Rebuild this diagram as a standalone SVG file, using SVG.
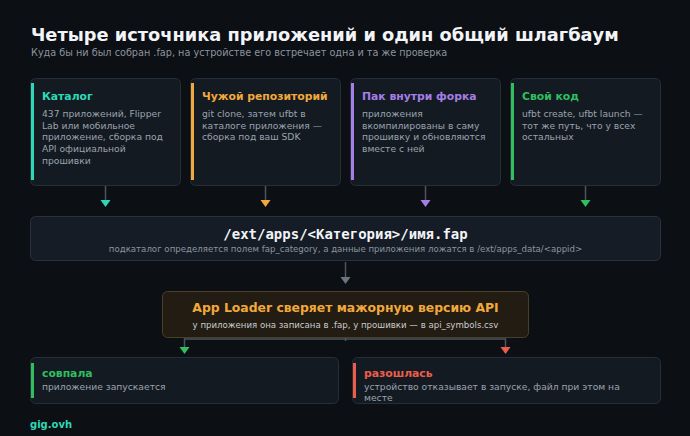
<svg xmlns="http://www.w3.org/2000/svg" width="690" height="436" viewBox="0 0 690 436">
<style>
.card{fill:#141a22;stroke:#262e38;stroke-width:1}
.ct{font-family:"DejaVu Sans",sans-serif;font-weight:bold;font-size:10.8px}
.cb{font-family:"DejaVu Sans",sans-serif;font-size:9.2px;fill:#9aa3ad}
.ln{fill:none;stroke:#4b5462;stroke-width:1.5}
</style>
<rect width="690" height="436" fill="#0c0f14"/>
<text x="31" y="41" font-family="DejaVu Sans,sans-serif" font-weight="bold" font-size="17.8" fill="#f2f4f7">Четыре источника приложений и один общий шлагбаум</text>
<text x="31" y="56" font-family="DejaVu Sans,sans-serif" font-size="9.7" fill="#8b949e">Куда бы ни был собран .fap, на устройстве его встречает одна и та же проверка</text>

<g id="connectors">
<path class="ln" d="M105.5 186V200M265.5 186V200M425.5 186V200M585.5 186V200"/>
<path d="M100.5 200H110.5L105.5 207Z" fill="#2ed8b6"/>
<path d="M260.5 200H270.5L265.5 207Z" fill="#f2a93b"/>
<path d="M420.5 200H430.5L425.5 207Z" fill="#a57ee6"/>
<path d="M580.5 200H590.5L585.5 207Z" fill="#2fbf5f"/>
<path class="ln" d="M345.5 262V277"/>
<path d="M340.5 277H350.5L345.5 284Z" fill="#6b7480"/>
<path class="ln" d="M345.5 338V341M345.5 339H184.5V347M345.5 339H505.5V347"/>
<path d="M179.5 347H189.5L184.5 354Z" fill="#2fbf5f"/>
<path d="M500.5 347H510.5L505.5 354Z" fill="#ee5d4b"/>
</g>

<g id="card-catalog">
<rect class="card" x="30.5" y="78.5" width="150" height="107" rx="5"/>
<rect x="31" y="83" width="3" height="97" fill="#2ed8b6"/>
<text class="ct" x="42" y="100" fill="#2ed8b6">Каталог</text>
<text class="cb" x="42" y="117">437 приложений, Flipper</text>
<text class="cb" x="42" y="128.7">Lab или мобильное</text>
<text class="cb" x="42" y="140.4">приложение, сборка под</text>
<text class="cb" x="42" y="152.1">API официальной</text>
<text class="cb" x="42" y="163.8">прошивки</text>
</g>
<g id="card-foreign">
<rect class="card" x="190.5" y="78.5" width="150" height="107" rx="5"/>
<rect x="191" y="83" width="3" height="97" fill="#f2a93b"/>
<text class="ct" x="202" y="100" fill="#f2a93b">Чужой репозиторий</text>
<text class="cb" x="202" y="117">git clone, затем ufbt в</text>
<text class="cb" x="202" y="128.7">каталоге приложения —</text>
<text class="cb" x="202" y="140.4">сборка под ваш SDK</text>
</g>
<g id="card-fork">
<rect class="card" x="350.5" y="78.5" width="150" height="107" rx="5"/>
<rect x="351" y="83" width="3" height="97" fill="#a57ee6"/>
<text class="ct" x="362" y="100" fill="#a57ee6">Пак внутри форка</text>
<text class="cb" x="362" y="117">приложения</text>
<text class="cb" x="362" y="128.7">вкомпилированы в саму</text>
<text class="cb" x="362" y="140.4">прошивку и обновляются</text>
<text class="cb" x="362" y="152.1">вместе с ней</text>
</g>
<g id="card-own">
<rect class="card" x="510.5" y="78.5" width="150" height="107" rx="5"/>
<rect x="511" y="83" width="3" height="97" fill="#2fbf5f"/>
<text class="ct" x="522" y="100" fill="#2fbf5f">Свой код</text>
<text class="cb" x="522" y="117">ufbt create, ufbt launch —</text>
<text class="cb" x="522" y="128.7">тот же путь, что у всех</text>
<text class="cb" x="522" y="140.4">остальных</text>
</g>

<g id="path-box">
<rect x="30.5" y="216.5" width="630" height="44" rx="5" fill="#151c26" stroke="#28313c"/>
<text x="345.5" y="239" text-anchor="middle" font-family="DejaVu Sans Mono,monospace" font-weight="bold" font-size="14" fill="#f2f4f7">/ext/apps/&lt;Категория&gt;/имя.fap</text>
<text x="345.5" y="252" text-anchor="middle" font-family="DejaVu Sans,sans-serif" font-size="8.6" fill="#8b949e">подкаталог определяется полем fap_category, а данные приложения ложатся в /ext/apps_data/&lt;appid&gt;</text>
</g>

<g id="app-loader">
<rect x="162.5" y="291.5" width="366" height="46" rx="5" fill="#221c12" stroke="#4a3f28"/>
<text x="345.5" y="312" text-anchor="middle" font-family="DejaVu Sans,sans-serif" font-weight="bold" font-size="12.4" fill="#f2a93b">App Loader сверяет мажорную версию API</text>
<text x="345.5" y="328" text-anchor="middle" font-family="DejaVu Sans,sans-serif" font-size="8.6" fill="#c9ccd1">у приложения она записана в .fap, у прошивки — в api_symbols.csv</text>
</g>

<g id="result-match">
<rect class="card" x="30.5" y="357.5" width="308" height="46" rx="5"/>
<rect x="31" y="363" width="3" height="35" fill="#2fbf5f"/>
<text class="ct" x="42" y="377" fill="#2fbf5f">совпала</text>
<text class="cb" x="42" y="389.5">приложение запускается</text>
</g>
<g id="result-mismatch">
<rect class="card" x="352.5" y="357.5" width="308" height="46" rx="5"/>
<rect x="353" y="363" width="3" height="35" fill="#ee5d4b"/>
<text class="ct" x="364" y="377" fill="#ee5d4b">разошлась</text>
<text class="cb" x="364" y="389.5">устройство отказывает в запуске, файл при этом на</text>
<text class="cb" x="364" y="401.2">месте</text>
</g>

<text x="30" y="428" font-family="DejaVu Sans,sans-serif" font-weight="bold" font-size="10" fill="#2ed8b6">gig.ovh</text>
</svg>
